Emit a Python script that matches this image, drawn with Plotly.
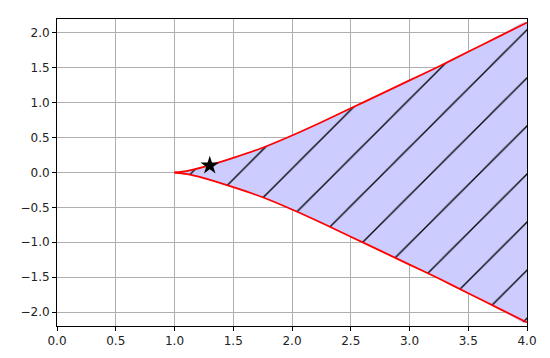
import plotly.graph_objects as go

# Data
x_vals = [1.0, 1.1, 1.25, 1.5, 1.75, 2.0, 2.25, 2.5, 2.75, 3.0, 3.25, 3.5, 3.75, 4.0]
upper = [0.0, 0.02, 0.08, 0.21, 0.355, 0.53, 0.72, 0.92, 1.12, 1.32, 1.52, 1.73, 1.94, 2.15]
lower = [-v for v in upper]
star_x = [1.3]
star_y = [0.1]
x_ticks = [0.0, 0.5, 1.0, 1.5, 2.0, 2.5, 3.0, 3.5, 4.0]
y_ticks = [-2.0, -1.5, -1.0, -0.5, 0.0, 0.5, 1.0, 1.5, 2.0]

poly_x = x_vals + x_vals[::-1]
poly_y = upper + lower[::-1]

fig = go.Figure()
fig.add_trace(go.Scatter(
    x=poly_x, y=poly_y, mode="none", fill="toself",
    fillcolor="#ccccff", line=dict(shape="spline", smoothing=0.6),
    fillpattern=dict(shape="/", fgcolor="#000000", bgcolor="#ccccff",
                     fgopacity=1, size=34, solidity=0.04),
    hoverinfo="skip", showlegend=False))
fig.add_trace(go.Scatter(x=x_vals, y=upper, mode="lines",
                         line=dict(color="red", width=1.8, shape="spline", smoothing=0.6),
                         showlegend=False))
fig.add_trace(go.Scatter(x=x_vals, y=lower, mode="lines",
                         line=dict(color="red", width=1.8, shape="spline", smoothing=0.6),
                         showlegend=False))
fig.add_trace(go.Scatter(x=star_x, y=star_y, mode="markers",
                         marker=dict(symbol="star", color="black", size=14),
                         showlegend=False))

axis_common = dict(showgrid=True, gridcolor="#b0b0b0", gridwidth=1,
                   showline=True, linecolor="black", linewidth=1, mirror=True,
                   ticks="outside", ticklen=4, tickcolor="black",
                   zeroline=False, tickfont=dict(family="DejaVu Sans", size=12, color="#222222"))

fig.update_xaxes(range=[0, 4], tickvals=x_ticks,
                 ticktext=[f"{v:.1f}" for v in x_ticks], **axis_common)
fig.update_yaxes(range=[-2.2, 2.2], tickvals=y_ticks,
                 ticktext=[f"{v:.1f}".replace("-", "\u2212") for v in y_ticks], **axis_common)

# page body has an 8px margin, so the margins compensate for it
fig.update_layout(width=550, height=358,
                  margin=dict(l=49, r=31, t=11, b=40),
                  plot_bgcolor="white", paper_bgcolor="white")

fig.write_html("out.html")
